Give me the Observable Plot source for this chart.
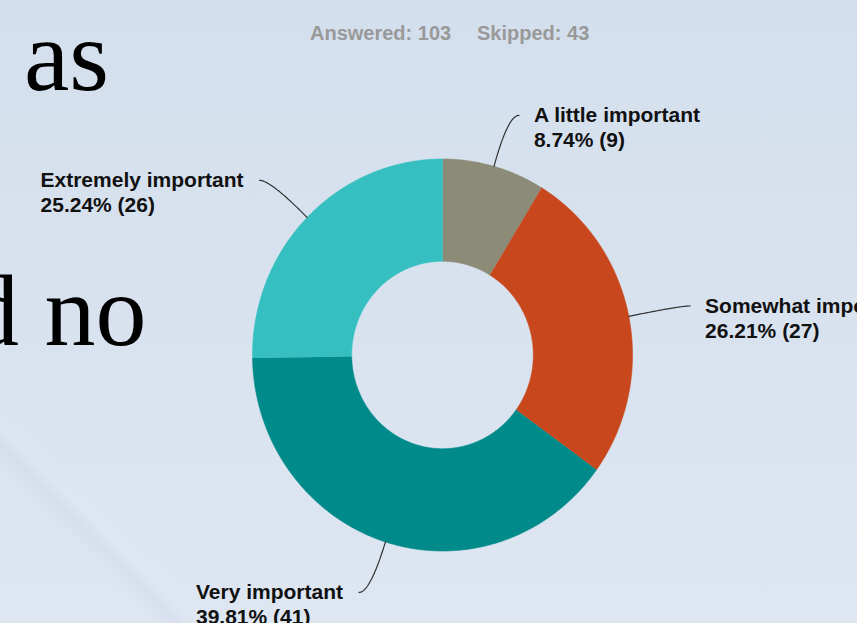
<!DOCTYPE html>
<html>
<head>
<meta charset="utf-8">
<script src="https://cdn.jsdelivr.net/npm/d3@7"></script>
<script src="https://cdn.jsdelivr.net/npm/@observablehq/plot@0.6"></script>
<style>
  html, body { margin: 0; padding: 0; }
  #stage {
    position: relative; width: 857px; height: 623px; overflow: hidden;
    background:
      linear-gradient(45deg, rgba(0,0,0,0) 10.5%, rgba(140,155,180,0.07) 12%, rgba(255,255,255,0.07) 13.5%, rgba(0,0,0,0) 15%),
      linear-gradient(to bottom, #d4dfed, #dde6f1);
  }
  .slide { position: absolute; font-family: "Liberation Serif", "Times New Roman", serif; font-size: 102px; line-height: 1; color: #000; white-space: nowrap; }
  .hdr { position: absolute; font-family: "Liberation Sans", Arial, sans-serif; font-weight: bold; font-size: 20px; line-height: 1; color: #999; white-space: nowrap; }
  #chart { position: absolute; left: 0; top: 0; }
</style>
</head>
<body>
<div id="stage">
  <div class="slide" style="left:24px;top:5px;">as</div>
  <div class="slide" style="left:-32px;top:260px;">d no</div>
  <div class="hdr" id="answered" style="left:310px;top:23px;"></div>
  <div class="hdr" id="skipped" style="left:477px;top:23px;"></div>
  <div id="chart"></div>
</div>
<script>
const categories = ["A little important", "Somewhat important", "Very important", "Extremely important"];
const counts = [9, 27, 41, 26];
const percents = [8.74, 26.21, 39.81, 25.24];
const colors = ["#8b8b78", "#c8471c", "#008a8a", "#35bfc0"];
const answered = 103;
const skipped = 43;

document.getElementById("answered").textContent = `Answered: ${answered}`;
document.getElementById("skipped").textContent = `Skipped: ${skipped}`;

const innerRatio = 0.478;
const total = d3.sum(counts);
const pxPerUnitX = 190; // x scale: domain [-1,1] -> range [252,632]

// slice angles, clockwise from 12 o'clock
let acc = 0;
const slices = categories.map((c, i) => {
  const a0 = acc / total * 2 * Math.PI;
  acc += counts[i];
  const a1 = acc / total * 2 * Math.PI;
  return {key: c, a0, a1, mid: (a0 + a1) / 2, count: counts[i], pct: percents[i]};
});

const pt = (a, r) => ({x: r * Math.sin(a), y: r * Math.cos(a)});

// arc polygons
const arcPts = [];
for (const s of slices) {
  const n = Math.max(2, Math.ceil((s.a1 - s.a0) / (Math.PI / 360)));
  for (let j = 0; j <= n; j++) {
    const a = s.a0 + (s.a1 - s.a0) * j / n;
    arcPts.push({key: s.key, ...pt(a, 1)});
  }
  for (let j = n; j >= 0; j--) {
    const a = s.a0 + (s.a1 - s.a0) * j / n;
    arcPts.push({key: s.key, ...pt(a, innerRatio)});
  }
}

const fontSize = 21;
const fontFamily = "'Liberation Sans', Arial, sans-serif";
const ctx = document.createElement("canvas").getContext("2d");
ctx.font = `bold ${fontSize}px ${fontFamily}`;

// leader lines: radial out to r=1.27 then a short horizontal hook, smoothed
const elbowR = 1.27, hook = 11 / pxPerUnitX;
const leaderPts = [];
const labels = [];
for (const s of slices) {
  const p0 = pt(s.mid, 1);
  const p1 = pt(s.mid, elbowR);
  const right = p1.x >= 0;
  const p2 = {x: p1.x + (right ? hook : -hook), y: p1.y};
  for (let j = 0; j <= 40; j++) {
    const t = j / 40;
    leaderPts.push({
      key: s.key,
      x: (1 - t) * (1 - t) * p0.x + 2 * (1 - t) * t * p1.x + t * t * p2.x,
      y: (1 - t) * (1 - t) * p0.y + 2 * (1 - t) * t * p1.y + t * t * p2.y
    });
  }
  // left labels: block left-aligned, first line ending just before the leader
  const w = ctx.measureText(s.key).width;
  labels.push({
    x: right ? p2.x : p2.x - w / pxPerUnitX,
    y: p2.y, right,
    name: s.key,
    value: `${s.pct.toFixed(2)}% (${s.count})`
  });
}

const font = {fontFamily, fontWeight: "bold", fontSize, fill: "#111", textAnchor: "start", lineAnchor: "middle"};

const chart = Plot.plot({
  width: 857,
  height: 623,
  x: {domain: [-1, 1], range: [252, 632], axis: null},
  y: {domain: [-1, 1], range: [550.5, 158.5], axis: null},
  color: {domain: categories, range: colors},
  style: {background: "transparent", overflow: "visible"},
  marks: [
    Plot.line(arcPts, {x: "x", y: "y", z: "key", fill: "key", stroke: "key", strokeWidth: 0.6, curve: "linear"}),
    Plot.line(leaderPts, {x: "x", y: "y", z: "key", stroke: "#333", strokeWidth: 1.2}),
    Plot.text(labels.filter(d => d.right), {x: "x", y: "y", text: "name", dx: 15, dy: 0, ...font}),
    Plot.text(labels.filter(d => d.right), {x: "x", y: "y", text: "value", dx: 15, dy: 25, ...font}),
    Plot.text(labels.filter(d => !d.right), {x: "x", y: "y", text: "name", dx: -16, dy: 0, ...font}),
    Plot.text(labels.filter(d => !d.right), {x: "x", y: "y", text: "value", dx: -16, dy: 25, ...font})
  ]
});
document.getElementById("chart").appendChild(chart);
</script>
</body>
</html>
